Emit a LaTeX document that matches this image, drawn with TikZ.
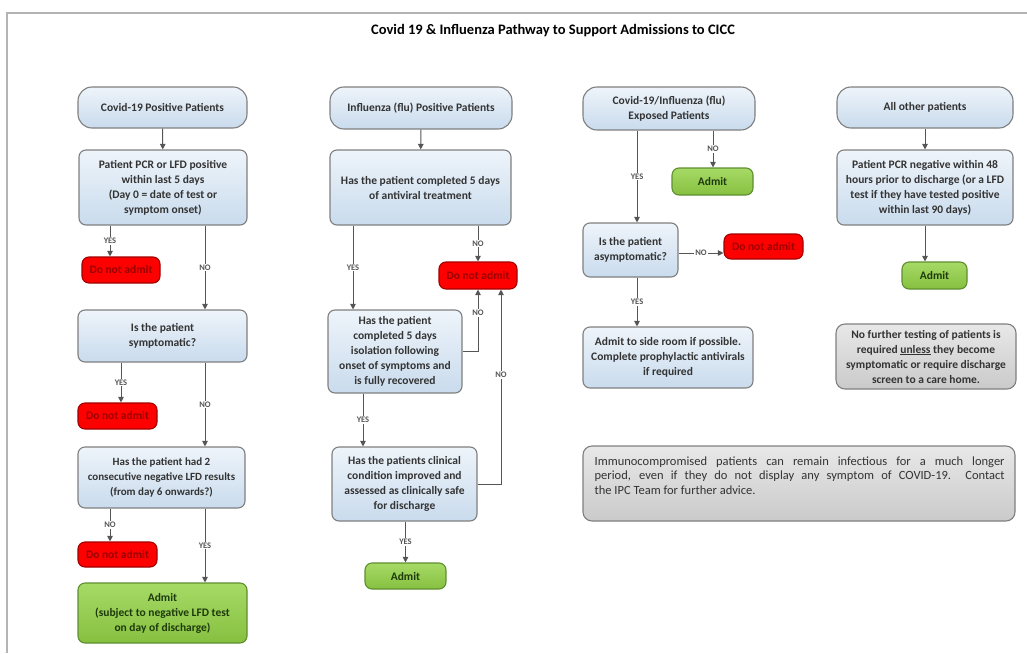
\documentclass[tikz,border=0pt]{standalone}
\usepackage{fontspec}
\setmainfont{Carlito}
\usetikzlibrary{arrows.meta}
\definecolor{bord}{HTML}{7F7F7F}
\definecolor{blueA}{HTML}{EEF4FA}
\definecolor{blueB}{HTML}{C9DBED}
\definecolor{txt}{HTML}{333333}
\definecolor{redF}{HTML}{FF0000}
\definecolor{redB}{HTML}{A00000}
\definecolor{redT}{HTML}{9A0000}
\definecolor{grnA}{HTML}{A6DA66}
\definecolor{grnB}{HTML}{86C040}
\definecolor{grnD}{HTML}{5E8E2E}
\definecolor{grnT}{HTML}{1E3A0C}
\definecolor{grayA}{HTML}{E8E8E8}
\definecolor{grayB}{HTML}{CACACA}
\definecolor{lineC}{HTML}{555555}
\definecolor{frameC}{HTML}{B4B4B4}
\tikzset{
  base/.style={draw=bord, line width=1.1pt, align=center, inner sep=0pt,
    font=\bfseries\fontsize{11.5}{15}\selectfont, text=txt},
  proc/.style={base, rounded corners=7pt, top color=blueA, bottom color=blueB},
  term/.style={proc, rounded corners=14pt},
  dna/.style={base, rounded corners=7pt, fill=redF, draw=redB, text=redT},
  adm/.style={base, rounded corners=7pt, top color=grnA, bottom color=grnB, draw=grnD, text=grnT},
  note/.style={base, rounded corners=9pt, top color=grayA, bottom color=grayB},
  arr/.style={draw=lineC, line width=1pt, -{Triangle[width=5.5pt,length=5.5pt]}},
  lab/.style={fill=white, inner sep=1pt, text=lineC, font=\bfseries\fontsize{8.5}{9}\selectfont},
}
\begin{document}
\begin{tikzpicture}[x=1pt, y=-1pt]
\useasboundingbox (0,0) rectangle (1027,653);
\draw[frameC, line width=1.5pt] (1027,13) -- (7,13) -- (7,653);
\node[font=\bfseries\fontsize{14.5}{16}\selectfont, text=black] (title) at (553,31) {Covid 19 \& Influenza Pathway to Support Admissions to CICC};

% Column 1
\node[term, minimum width=169pt, minimum height=41pt] (c1) at (162.5,107.5) {Covid-19 Positive Patients};
\node[proc, minimum width=168pt, minimum height=75pt] (c2) at (163,187.5) {Patient PCR or LFD positive\\within last 5 days\\(Day 0 = date of test or\\symptom onset)};
\node[dna, minimum width=78pt, minimum height=26pt] (cd1) at (121,270) {Do not admit};
\node[proc, minimum width=169pt, minimum height=52pt] (c3) at (162.5,336) {Is the patient\\symptomatic?};
\node[dna, minimum width=79pt, minimum height=26pt] (cd2) at (117.5,416) {Do not admit};
\node[proc, minimum width=167pt, minimum height=61pt, font=\bfseries\fontsize{11}{15}\selectfont] (c4) at (161.5,477.5) {Has the patient had 2\\consecutive negative LFD results\\(from day 6 onwards?)};
\node[dna, minimum width=79pt, minimum height=25pt] (cd3) at (117.5,554.5) {Do not admit};
\node[adm, minimum width=169pt, minimum height=60pt] (ca) at (162.5,613) {Admit\\(subject to negative LFD test\\on day of discharge)};

\draw[arr] (c1) -- (c2);
\draw[arr] ([xshift=-53pt]c2.south) -- ([xshift=-53pt]c2.south |- cd1.north) node[lab, midway] {YES};
\draw[arr] ([xshift=42pt]c2.south) -- ([xshift=42pt]c2.south |- c3.north) node[lab, midway] {NO};
\draw[arr] ([xshift=-41.5pt]c3.south) -- ([xshift=-41.5pt]c3.south |- cd2.north) node[lab, midway] {YES};
\draw[arr] ([xshift=42.5pt]c3.south) -- ([xshift=42.5pt]c3.south |- c4.north) node[lab, midway] {NO};
\draw[arr] ([xshift=-51.5pt]c4.south) -- ([xshift=-51.5pt]c4.south |- cd3.north) node[lab, midway] {NO};
\draw[arr] ([xshift=43.5pt]c4.south) -- ([xshift=43.5pt]c4.south |- ca.north) node[lab, midway] {YES};

% Column 2
\node[term, minimum width=182pt, minimum height=42pt] (i1) at (421,108) {Influenza (flu) Positive Patients};
\node[proc, minimum width=181pt, minimum height=75pt] (i2) at (420.5,187.5) {Has the patient completed 5 days\\of antiviral treatment};
\node[dna, minimum width=78pt, minimum height=27pt] (id) at (478,275.5) {Do not admit};
\node[proc, minimum width=134pt, minimum height=83pt] (i3) at (395,351.5) {Has the patient\\completed 5 days\\isolation following\\onset of symptoms and\\is fully recovered};
\node[proc, minimum width=145pt, minimum height=74pt] (i4) at (404.5,484) {Has the patients clinical\\condition improved and\\assessed as clinically safe\\for discharge};
\node[adm, minimum width=81pt, minimum height=26pt] (ia) at (405.5,576) {Admit};

\draw[arr] (i1) -- (i2);
\draw[arr] ([xshift=-67.5pt]i2.south) -- ([xshift=-67.5pt]i2.south |- i3.north) node[lab, midway] {YES};
\draw[arr] (i2.south -| id.north) -- (id.north) node[lab, midway] {NO};
\draw[arr] (i3.east) -- (i3.east -| id.south) -- (id.south) node[lab, pos=0.62] {NO};
\draw[arr] (i4.east) -- ([xshift=23pt]id.south |- i4.east) -- ([xshift=23pt]id.south) node[lab, pos=0.56] {NO};
\draw[arr] ([xshift=-32pt]i3.south) -- ([xshift=-32pt]i3.south |- i4.north) node[lab, midway] {YES};
\draw[arr] (i4.south -| ia.north) -- (ia.north) node[lab, midway] {YES};

% Column 3
\node[term, minimum width=172pt, minimum height=43pt] (e1) at (669,108.5) {Covid-19/Influenza (flu)\\Exposed Patients};
\node[adm, minimum width=81pt, minimum height=27pt] (ea) at (712.5,181.5) {Admit};
\node[proc, minimum width=95pt, minimum height=54pt] (e2) at (630.5,250) {Is the patient\\asymptomatic?};
\node[dna, minimum width=79pt, minimum height=25pt] (ed) at (763.5,246.5) {Do not admit};
\node[proc, minimum width=170pt, minimum height=61pt] (e3) at (668,357.5) {Admit to side room if possible.\\Complete prophylactic antivirals\\if required};

\draw[arr] ([xshift=-32pt]e1.south) -- ([xshift=-32pt]e1.south |- e2.north) node[lab, midway] {YES};
\draw[arr] ([xshift=44pt]e1.south) -- ([xshift=44pt]e1.south |- ea.north) node[lab, midway] {NO};
\draw[arr] ([yshift=-3pt]e2.east) -- ([yshift=-3pt]e2.east -| ed.west) node[lab, midway] {NO};
\draw[arr] ([xshift=6.5pt]e2.south) -- ([xshift=6.5pt]e2.south |- e3.north) node[lab, midway] {YES};

% Column 4
\node[term, minimum width=176pt, minimum height=41pt] (a1) at (925,107.5) {All other patients};
\node[proc, minimum width=176pt, minimum height=75pt] (a2) at (925,187.5) {Patient PCR negative within 48\\hours prior to discharge (or a LFD\\test if they have tested positive\\within last 90 days)};
\node[adm, minimum width=65pt, minimum height=27pt] (aa) at (934.5,275.5) {Admit};
\node[note, minimum width=180pt, minimum height=65pt] (n1) at (926,356.5) {No further testing of patients is\\required \underline{unless} they become\\symptomatic or require discharge\\screen to a care home.};
\draw[arr] (a1) -- (a2);
\draw[arr] (a2.south) -- (a2.south |- aa.north);

% Bottom note
\node[note, minimum width=432pt, minimum height=75pt] (n2) at (799,483.5) {};
\node[anchor=north west, inner sep=0pt, text=txt, font=\fontsize{12.5}{14.5}\selectfont] (n2t) at ([xshift=12pt,yshift=-11pt]n2.north west) {\parbox{410pt}{%
Immunocompromised patients can remain infectious for a much longer\linebreak
period, even if they do not display any symptom of COVID-19.\ \ Contact\linebreak
the IPC Team for further advice.}};
\end{tikzpicture}
\end{document}
